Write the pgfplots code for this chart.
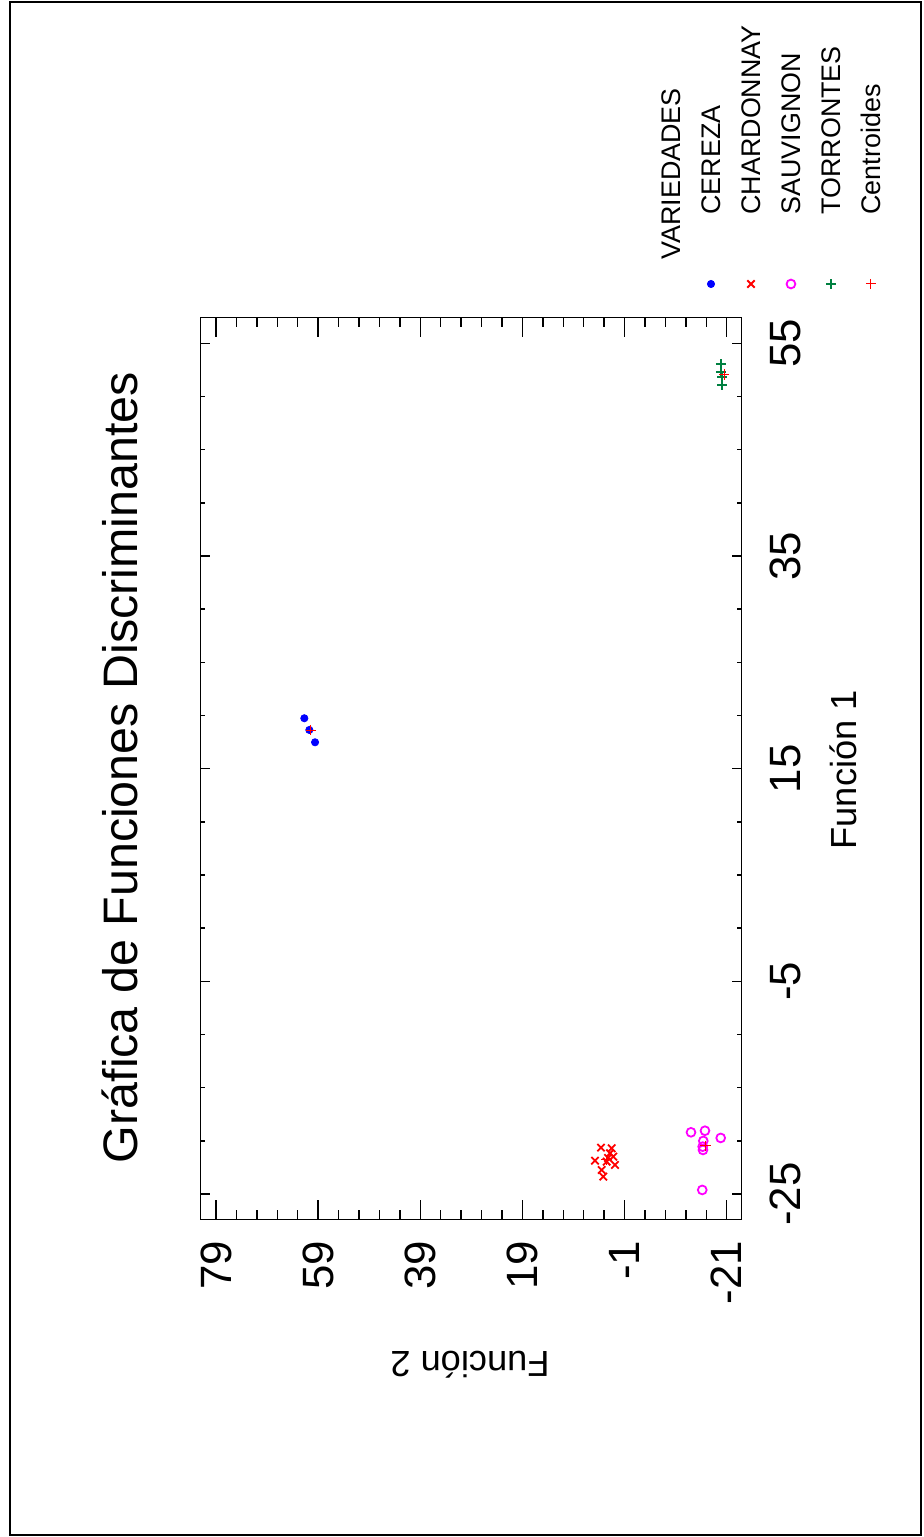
\documentclass[border=0pt]{standalone}
\usepackage{fontspec}
\setmainfont{Liberation Sans}
\usepackage{pgfplots}
\pgfplotsset{compat=1.18}
\definecolor{cblue}{RGB}{0,0,255}
\definecolor{cred}{RGB}{255,0,0}
\definecolor{cmag}{RGB}{255,0,255}
\definecolor{cgreen}{RGB}{0,128,64}
\begin{document}
\begin{tikzpicture}
\begin{axis}[
  x={(0bp,5.317bp)}, y={(-2.5535bp,0bp)},
  xmin=-27.38, xmax=57.41, ymin=-23.96, ymax=82.06,
  axis line style={line width=0.7bp},
  xtick={-25,-5,15,35,55}, xticklabels={-25,-5,15,35,55},
  ytick={-21,-1,19,39,59,79}, yticklabels={-21,-1,19,39,59,79},
  minor x tick num=3, minor y tick num=4,
  tick align=inside,
  tick style={black, line width=0.7bp},
  major tick length=9.5bp, minor tick length=4.8bp,
  xtick style={/pgfplots/major tick length=5bp, /pgfplots/minor tick length=2.3bp},
  xticklabel pos=upper, yticklabel pos=upper,
  ticklabel style={font=\fontsize{22}{26}\selectfont},
  xticklabel style={rotate=90, anchor=north, inner sep=0pt},
  xticklabel shift=14bp,
  yticklabel style={rotate=90, anchor=east, inner sep=0pt},
  yticklabel shift=10.5bp,
  title={Gráfica de Funciones Discriminantes},
  every axis title/.style={at={(axis description cs:-0.1485,0.501)}, rotate=90, anchor=center, font=\fontsize{24.3}{29}\selectfont},
  xlabel={Función 1},
  every axis x label/.style={at={(axis description cs:1.187,0.4985)}, rotate=90, anchor=center, font=\fontsize{18.2}{22}\selectfont},
  ylabel={Función 2},
  every axis y label/.style={at={(axis description cs:0.498,-0.1616)}, rotate=180, anchor=center, font=\fontsize{18.2}{22}\selectfont},
  clip=false,
]
\addplot[only marks, mark=*, color=cblue, mark size=1.8bp] coordinates {
  (19.74,61.71) (18.64,60.73) (17.48,59.61)
};
\addplot[only marks, mark=x, color=cred, mark size=2.6bp, line width=0.9bp] coordinates {
  (-20.64,3.61) (-20.70,1.52) (-21.87,4.79) (-21.17,1.85) (-21.49,1.20)
  (-21.96,2.50) (-22.27,0.87) (-22.74,3.48) (-23.37,3.16) (-21.61,2.24)
};
\addplot[only marks, mark=o, color=cmag, mark size=2.2bp, line width=0.9bp] coordinates {
  (-19.20,-14.01) (-19.05,-16.75) (-19.73,-19.83) (-20.01,-16.42)
  (-20.55,-16.30) (-20.86,-16.36) (-24.62,-16.22)
};
\addplot[only marks, mark=+, color=cgreen, mark size=2.4bp, line width=1.1bp] coordinates {
  (53.03,-19.83) (52.30,-19.88) (51.83,-20.08) (51.08,-20.14)
};
\addplot[only marks, mark=+, color=cred, mark size=2.6bp, line width=0.5bp] coordinates {
  (18.62,60.46) (-21.8,2.5) (-20.48,-16.89) (52.08,-20.53)
};
% legend (rotated, drawn by hand)
\addplot[only marks, mark=*, color=cblue, mark size=1.8bp, forget plot] coordinates {(60.58,-17.93)};
\addplot[only marks, mark=x, color=cred, mark size=2.6bp, line width=0.9bp, forget plot] coordinates {(60.58,-25.76)};
\addplot[only marks, mark=o, color=cmag, mark size=2.2bp, line width=0.9bp, forget plot] coordinates {(60.58,-33.59)};
\addplot[only marks, mark=+, color=cgreen, mark size=2.4bp, line width=1.1bp, forget plot] coordinates {(60.58,-41.42)};
\addplot[only marks, mark=+, color=cred, mark size=2.6bp, line width=0.5bp, forget plot] coordinates {(60.58,-49.26)};
\begin{scope}[every node/.style={rotate=90, anchor=west, inner sep=0pt, font=\fontsize{13.5}{16}\selectfont}]
\node at (axis cs:62.84,-10.09) {VARIEDADES};
\node at (axis cs:67.07,-17.93) {CEREZA};
\node at (axis cs:67.07,-25.76) {CHARDONNAY};
\node at (axis cs:67.07,-33.59) {SAUVIGNON};
\node at (axis cs:67.07,-41.42) {TORRONTES};
\node at (axis cs:67.07,-49.26) {Centroides};
\end{scope}
\draw[line width=0.8bp] (axis description cs:-0.3518,1.3501) rectangle (axis description cs:1.3312,-0.3502);
\path (axis description cs:-0.3702,1.3524) rectangle (axis description cs:1.3349,-0.3524);
\end{axis}
\end{tikzpicture}
\end{document}
